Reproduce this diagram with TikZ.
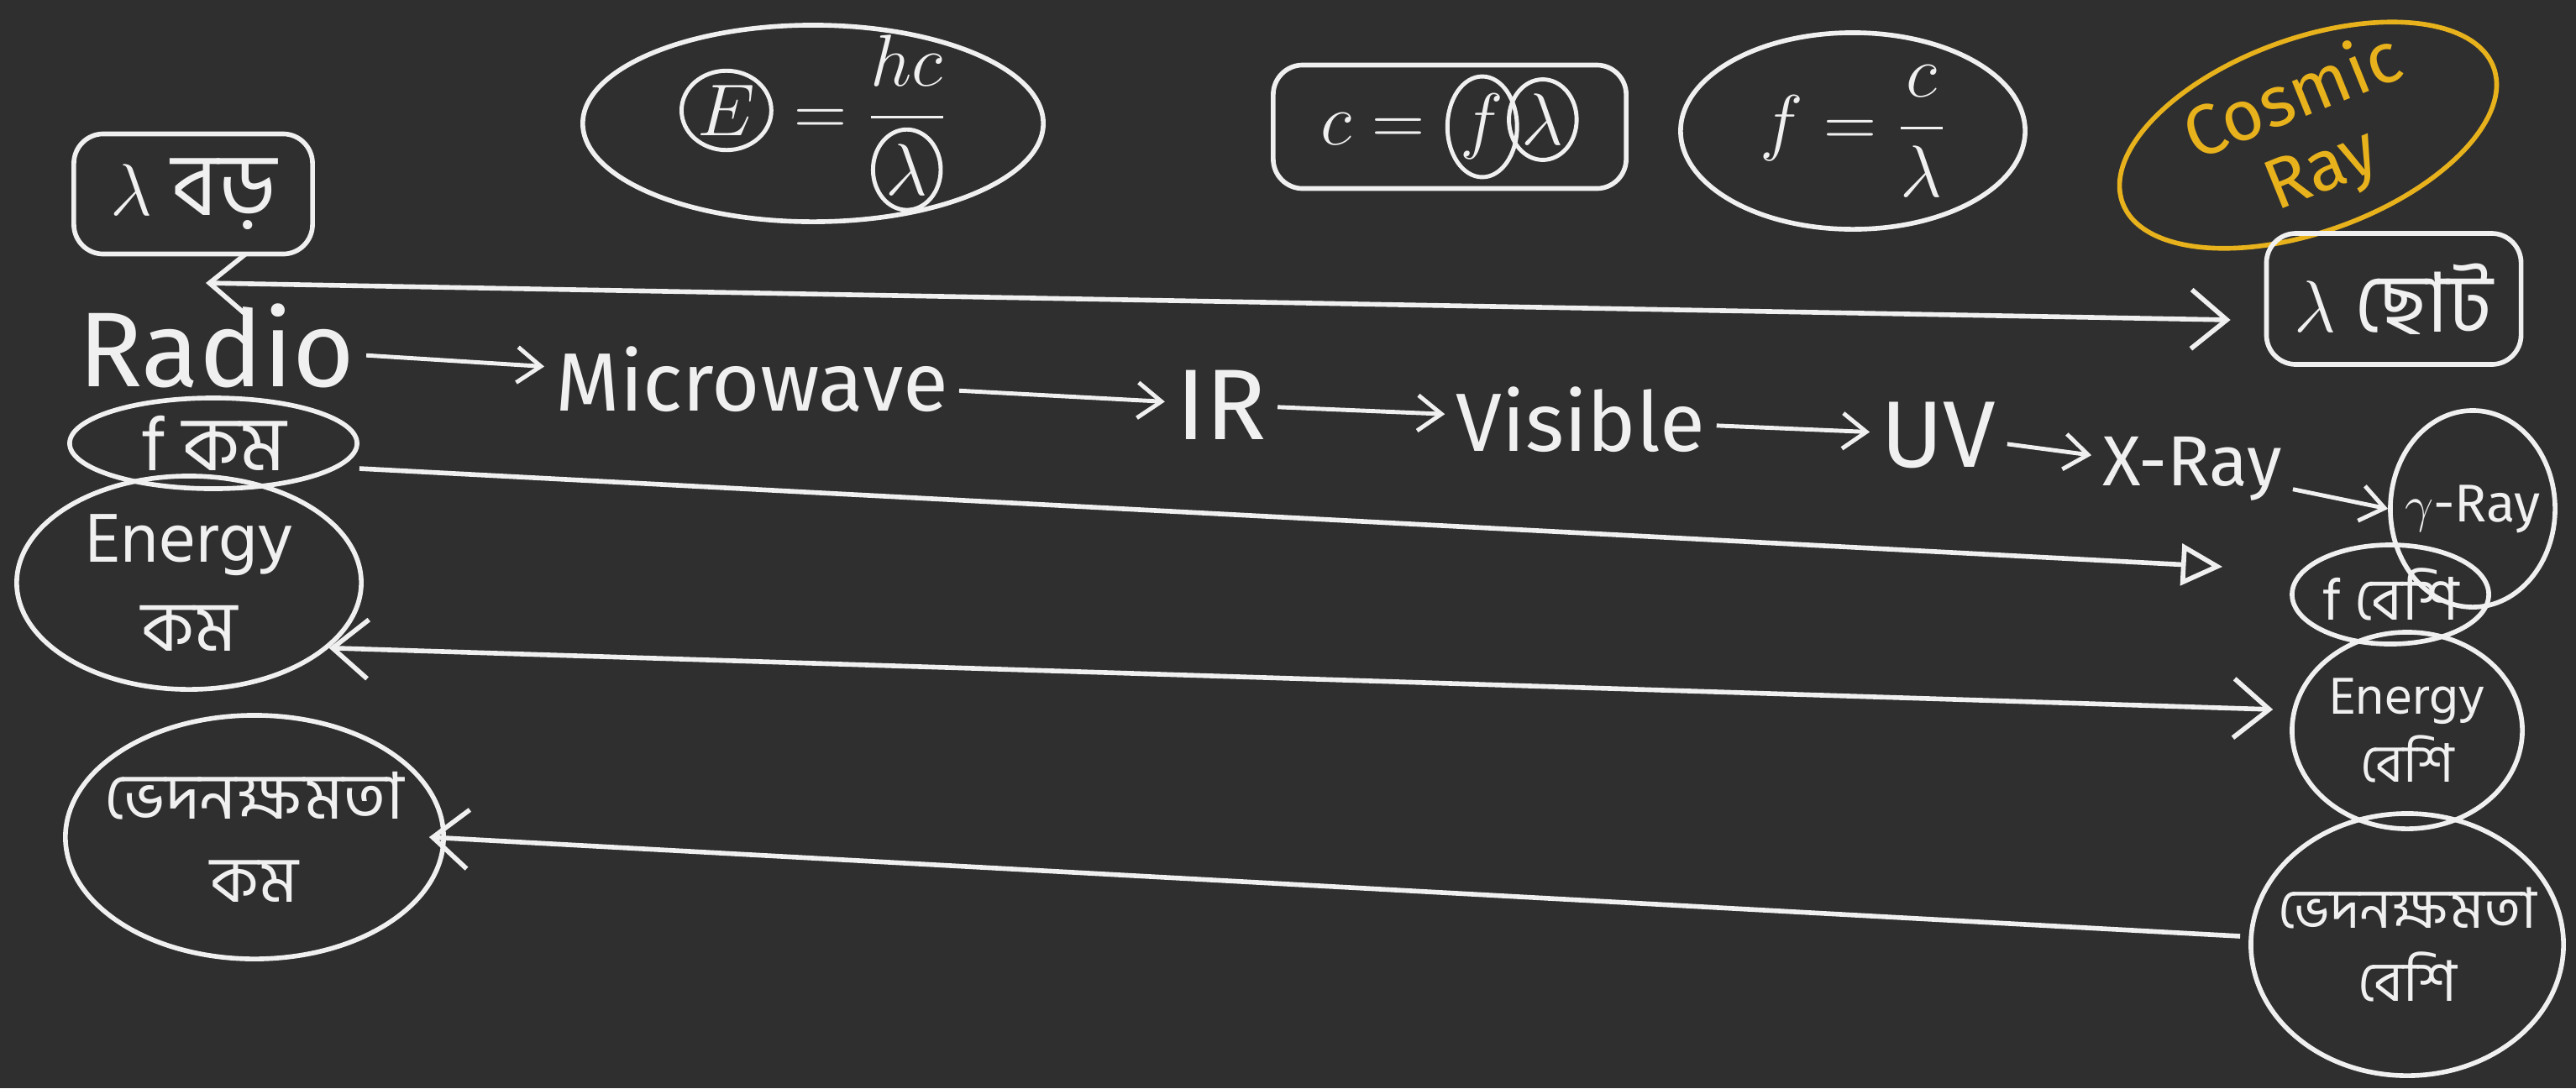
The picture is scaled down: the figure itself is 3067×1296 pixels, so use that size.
\documentclass[tikz,border=0pt]{standalone}
\usepackage{amsmath}
\usepackage{fontspec}
\setmainfont{Fira Sans}
\newfontfamily\bn[Script=Bengali]{Hind Siliguri}
\usetikzlibrary{positioning,shapes.geometric,arrows.meta}
\definecolor{board}{RGB}{47,47,47}
\definecolor{chalk}{RGB}{240,240,240}
\definecolor{gold}{RGB}{232,178,28}
\newcommand{\ringed}[1]{\tikz[baseline=(r.base)]\node[draw,ellipse,inner sep=1pt,line width=1.4pt] (r) {$#1$};}

\begin{document}
\begin{tikzpicture}[x=0.01cm, y=-0.01cm, color=chalk, line width=1.6pt,
  oval/.style={draw, ellipse, inner sep=0pt},
  box/.style={draw, rounded corners=10pt, inner sep=0pt},
  hw/.style={font=\fontsize{28}{32}\selectfont, inner sep=3pt},
  bntext/.style={font=\bn\fontsize{24}{30}\selectfont, align=center, inner sep=0pt},
  eqn/.style={font=\fontsize{30}{34}\selectfont, inner sep=0pt},
  arrow/.style={-{Straight Barb[length=8pt,width=12pt]}, line width=1.4pt},
  dblarrow/.style={{Straight Barb[length=12pt,width=20pt]}-{Straight Barb[length=12pt,width=20pt]}},
  backarrow/.style={{Straight Barb[length=12pt,width=20pt]}-},
  triarrow/.style={-{Triangle[open,length=14pt,width=14pt]}}
]
\fill[board] (0,0) rectangle (3067,1296);

% formulas on top
\node[oval, minimum width=5.48cm, minimum height=2.34cm] (eqE) at (968,147) {};
\node[eqn] at (eqE) {$\ringed{E}=\dfrac{hc}{\ringed{\lambda}}$};
\node[box, minimum width=4.2cm, minimum height=1.47cm] (eqC) at (1726,151) {};
\node[eqn] at (eqC) {$c=\ringed{f}\!\ringed{\lambda}$};
\node[oval, minimum width=4.1cm, minimum height=2.34cm] (eqF) at (2206,156) {};
\node[eqn] at (eqF) {$f=\dfrac{c}{\lambda}$};

% cosmic ray
\node[oval, draw=gold, rotate=20, minimum width=4.7cm, minimum height=2.3cm] (cosmic) at (2748,161) {};
\node[hw, text=gold, rotate=22, align=center, font=\fontsize{24}{26}\selectfont] at (cosmic) {Cosmic\\Ray};

% wavelength boxes
\node[box, minimum width=2.84cm, minimum height=1.43cm, bntext, font=\bn\fontsize{30}{34}\selectfont] (lbig) at (230,231) {$\lambda$ বড়};
\node[box, minimum width=3.03cm, minimum height=1.56cm, bntext, font=\bn\fontsize{28}{32}\selectfont] (lsmall) at (2850,356) {$\lambda$ ছোট};

% spectrum chain
\node[hw, font=\fontsize{36}{40}\selectfont] (radio) at (258,412) {Radio};
\node[hw] (micro) at (895,452) {Microwave};
\node[hw, font=\fontsize{34}{38}\selectfont] (ir) at (1454,482) {IR};
\node[hw] (vis) at (1882,500) {Visible};
\node[hw, font=\fontsize{32}{36}\selectfont] (uv) at (2308,518) {UV};
\node[hw, font=\fontsize{24}{28}\selectfont] (xray) at (2610,558) {X-Ray};
\node[oval, minimum width=1.96cm, minimum height=2.34cm] (gamma) at (2944,606) {};
\node[hw, font=\fontsize{18}{22}\selectfont, inner sep=0pt] at (gamma) {$\gamma$-Ray};

\draw[arrow] (radio) -- (micro);
\draw[arrow] (micro) -- (ir);
\draw[arrow] (ir) -- (vis);
\draw[arrow] (vis) -- (uv);
\draw[arrow] (uv) -- (xray);
\draw[arrow] (xray) -- (gamma.west);

% left column
\node[oval, minimum width=3.42cm, minimum height=1.08cm] (fkom) at (254,528) {};
\node[bntext, font=\bn\fontsize{26}{30}\selectfont] at (fkom) {f কম};
\node[oval, minimum width=4.1cm, minimum height=2.54cm] (ekom) at (225,694) {};
\node[bntext] at (ekom) {Energy\\কম};
\node[oval, minimum width=4.5cm, minimum height=2.9cm] (pkom) at (303,997) {};
\node[bntext, font=\bn\fontsize{22}{28}\selectfont] at (pkom) {ভেদনক্ষমতা\\কম};

% right column
\node[oval, minimum width=2.34cm, minimum height=1.18cm] (fbeshi) at (2846,708) {};
\node[bntext, font=\bn\fontsize{20}{24}\selectfont] at (fbeshi) {f বেশি};
\node[oval, minimum width=2.74cm, minimum height=2.34cm] (ebeshi) at (2866,870) {};
\node[bntext, font=\bn\fontsize{18}{23}\selectfont] at (ebeshi) {Energy\\বেশি};
\node[oval, minimum width=3.72cm, minimum height=3.12cm] (pbeshi) at (2866,1125) {};
\node[bntext, font=\bn\fontsize{19}{25}\selectfont] at (pbeshi) {ভেদনক্ষমতা\\বেশি};

% long arrows
\coordinate (topl) at (245,337);
\draw[dblarrow] (topl) -- ([xshift=-0.4cm,yshift=-0.25cm]lsmall.west);
\draw[triarrow] ([yshift=-0.3cm]fkom.east) -- ([xshift=-0.8cm,yshift=0.33cm]fbeshi.west);
\draw[dblarrow] (ekom.-25) -- ([xshift=-0.2cm,yshift=0.25cm]ebeshi.west);
\draw[backarrow] ([xshift=-0.2cm]pkom.east) -- ([xshift=-0.1cm,yshift=0.1cm]pbeshi.west);

\end{tikzpicture}
\end{document}
